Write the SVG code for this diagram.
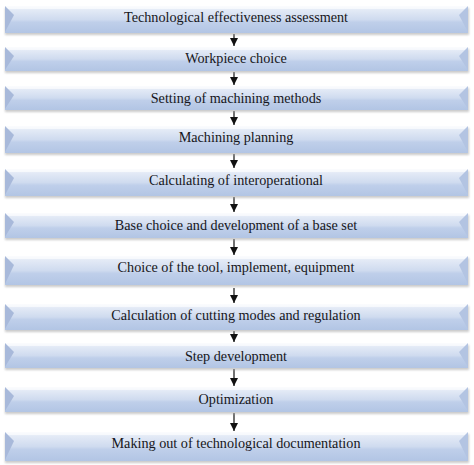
<svg xmlns="http://www.w3.org/2000/svg" width="474" height="465" viewBox="0 0 474 465">
<defs>
<linearGradient id="g" x1="0" y1="0" x2="0" y2="1">
<stop offset="0" stop-color="#f4f7fc"/>
<stop offset="0.15" stop-color="#e3eaf6"/>
<stop offset="0.5" stop-color="#cfdbef"/>
<stop offset="0.6" stop-color="#bfcfea"/>
<stop offset="1" stop-color="#b2c5e4"/>
</linearGradient>
<filter id="sh" x="-5%" y="-30%" width="110%" height="170%">
<feGaussianBlur stdDeviation="1.2"/>
</filter>
<marker id="ah" viewBox="0 0 10 10" refX="10" refY="5" markerWidth="8" markerHeight="8" markerUnits="userSpaceOnUse" orient="auto">
<path d="M0,0 L10,5 L0,10 Z" fill="#111"/>
</marker>
</defs>
<style>
.sh{fill:#a8a8a8;opacity:0.6;filter:url(#sh)}
.bx{fill:url(#g)}
.bl{fill:#a8b9da}
.br{fill:#b3c4e2}
.hl{fill:#ffffff;opacity:0.6}
.t{font-family:"Liberation Serif","Times New Roman",serif;font-size:14.2px;fill:#161620;text-anchor:middle}
.c{stroke:#111;stroke-width:1.2;fill:none}
</style>
<rect width="474" height="465" fill="#ffffff"/>
<g id="connectors">
<line class="c" x1="234" y1="34" x2="234" y2="46" marker-end="url(#ah)"/>
<line class="c" x1="234" y1="72" x2="234" y2="85" marker-end="url(#ah)"/>
<line class="c" x1="234" y1="111" x2="234" y2="125" marker-end="url(#ah)"/>
<line class="c" x1="234" y1="154" x2="234" y2="168" marker-end="url(#ah)"/>
<line class="c" x1="234" y1="197" x2="234" y2="212" marker-end="url(#ah)"/>
<line class="c" x1="234" y1="239" x2="234" y2="255" marker-end="url(#ah)"/>
<line class="c" x1="234" y1="288" x2="234" y2="303" marker-end="url(#ah)"/>
<line class="c" x1="234" y1="331" x2="234" y2="342" marker-end="url(#ah)"/>
<line class="c" x1="234" y1="369" x2="234" y2="386" marker-end="url(#ah)"/>
<line class="c" x1="234" y1="413" x2="234" y2="431" marker-end="url(#ah)"/>
</g>
<g id="n1">
<rect class="sh" x="5" y="8" width="464" height="27"/>
<rect class="bx" x="5" y="6" width="463" height="27"/>
<rect class="hl" x="5" y="6" width="463" height="3"/>
<path class="bl" d="M5,6 L14,15 L5,32 Z"/>
<path class="br" d="M468,6 L459,15 L468,32 Z"/>
<text class="t" x="236" y="22">Technological effectiveness assessment</text>
</g>
<g id="n2">
<rect class="sh" x="5" y="49" width="464" height="24"/>
<rect class="bx" x="5" y="47" width="463" height="24"/>
<rect class="hl" x="5" y="47" width="463" height="3"/>
<path class="bl" d="M5,47 L14,56 L5,70 Z"/>
<path class="br" d="M468,47 L459,56 L468,70 Z"/>
<text class="t" x="236" y="63">Workpiece choice</text>
</g>
<g id="n3">
<rect class="sh" x="5" y="88" width="464" height="24"/>
<rect class="bx" x="5" y="86" width="463" height="24"/>
<rect class="hl" x="5" y="86" width="463" height="3"/>
<path class="bl" d="M5,86 L14,95 L5,109 Z"/>
<path class="br" d="M468,86 L459,95 L468,109 Z"/>
<text class="t" x="236" y="103">Setting of machining methods</text>
</g>
<g id="n4">
<rect class="sh" x="5" y="128" width="464" height="27"/>
<rect class="bx" x="5" y="126" width="463" height="27"/>
<rect class="hl" x="5" y="126" width="463" height="3"/>
<path class="bl" d="M5,126 L14,135 L5,152 Z"/>
<path class="br" d="M468,126 L459,135 L468,152 Z"/>
<text class="t" x="236" y="142">Machining planning</text>
</g>
<g id="n5">
<rect class="sh" x="5" y="171" width="464" height="27"/>
<rect class="bx" x="5" y="169" width="463" height="27"/>
<rect class="hl" x="5" y="169" width="463" height="3"/>
<path class="bl" d="M5,169 L14,178 L5,195 Z"/>
<path class="br" d="M468,169 L459,178 L468,195 Z"/>
<text class="t" x="236" y="185">Calculating of interoperational</text>
</g>
<g id="n6">
<rect class="sh" x="5" y="215" width="464" height="25"/>
<rect class="bx" x="5" y="213" width="463" height="25"/>
<rect class="hl" x="5" y="213" width="463" height="3"/>
<path class="bl" d="M5,213 L14,222 L5,237 Z"/>
<path class="br" d="M468,213 L459,222 L468,237 Z"/>
<text class="t" x="236" y="230">Base choice and development of a base set</text>
</g>
<g id="n7">
<rect class="sh" x="5" y="258" width="464" height="29"/>
<rect class="bx" x="5" y="256" width="463" height="29"/>
<rect class="hl" x="5" y="256" width="463" height="3"/>
<path class="bl" d="M5,256 L14,265 L5,284 Z"/>
<path class="br" d="M468,256 L459,265 L468,284 Z"/>
<text class="t" x="236" y="272">Choice of the tool, implement, equipment</text>
</g>
<g id="n8">
<rect class="sh" x="5" y="306" width="464" height="26"/>
<rect class="bx" x="5" y="304" width="463" height="26"/>
<rect class="hl" x="5" y="304" width="463" height="3"/>
<path class="bl" d="M5,304 L14,313 L5,329 Z"/>
<path class="br" d="M468,304 L459,313 L468,329 Z"/>
<text class="t" x="236" y="320">Calculation of cutting modes and regulation</text>
</g>
<g id="n9">
<rect class="sh" x="5" y="345" width="464" height="25"/>
<rect class="bx" x="5" y="343" width="463" height="25"/>
<rect class="hl" x="5" y="343" width="463" height="3"/>
<path class="bl" d="M5,343 L14,352 L5,367 Z"/>
<path class="br" d="M468,343 L459,352 L468,367 Z"/>
<text class="t" x="236" y="361">Step development</text>
</g>
<g id="n10">
<rect class="sh" x="5" y="389" width="464" height="25"/>
<rect class="bx" x="5" y="387" width="463" height="25"/>
<rect class="hl" x="5" y="387" width="463" height="3"/>
<path class="bl" d="M5,387 L14,396 L5,411 Z"/>
<path class="br" d="M468,387 L459,396 L468,411 Z"/>
<text class="t" x="236" y="404">Optimization</text>
</g>
<g id="n11">
<rect class="sh" x="5" y="434" width="464" height="29"/>
<rect class="bx" x="5" y="432" width="463" height="29"/>
<rect class="hl" x="5" y="432" width="463" height="3"/>
<path class="bl" d="M5,432 L14,441 L5,460 Z"/>
<path class="br" d="M468,432 L459,441 L468,460 Z"/>
<text class="t" x="236" y="448">Making out of technological documentation</text>
</g>
</svg>
